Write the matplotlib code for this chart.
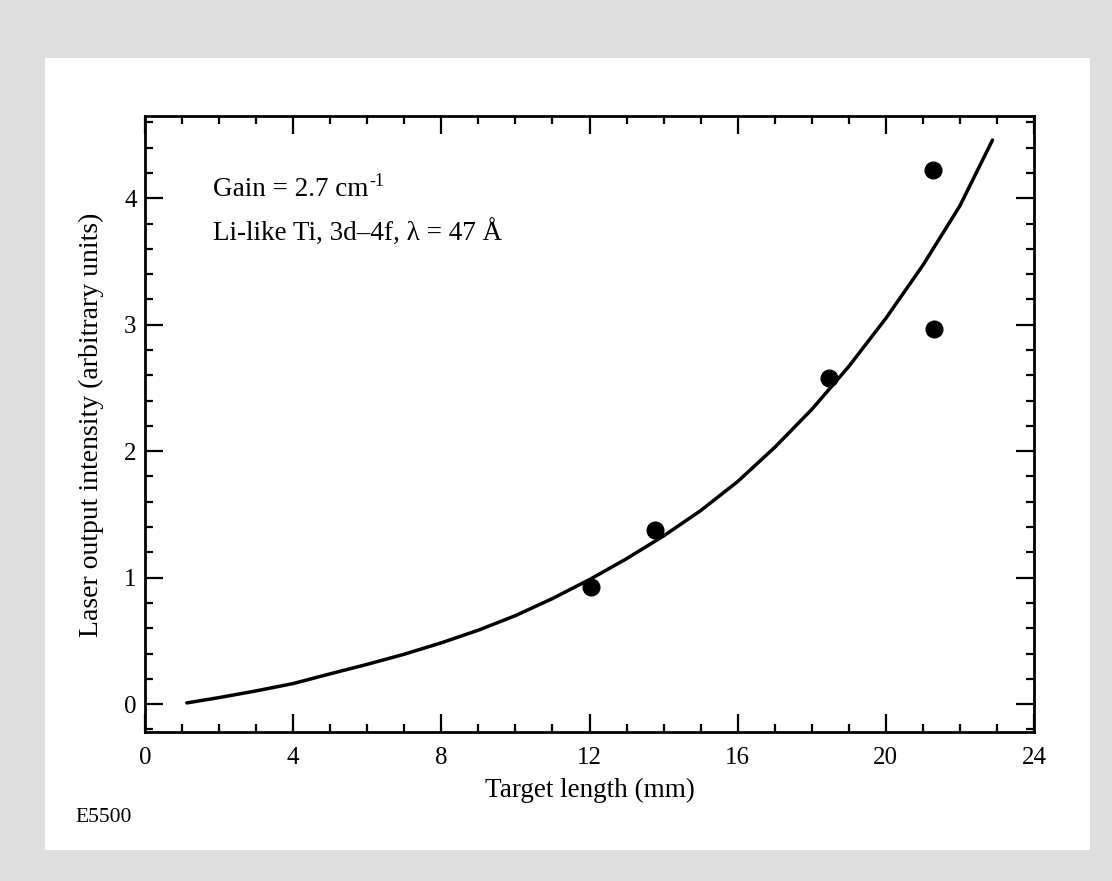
import matplotlib
matplotlib.use("Agg")
import matplotlib.pyplot as plt
from matplotlib.patches import Rectangle
from matplotlib.ticker import MultipleLocator

# data
target_len = [12.05, 13.78, 18.46, 21.26, 21.30]
intensity = [0.93, 1.38, 2.58, 4.22, 2.97]

curve_x = [1.13, 2.0, 3.0, 4.0, 5.0, 6.0, 7.0, 8.0, 9.0, 10.0, 11.0, 12.0,
           13.0, 14.0, 15.0, 16.0, 17.0, 18.0, 19.0, 20.0, 21.0, 22.0, 22.88]
curve_y = [0.01, 0.052, 0.105, 0.163, 0.24, 0.315, 0.395, 0.485, 0.585, 0.70, 0.835, 0.985,
           1.15, 1.33, 1.53, 1.76, 2.03, 2.33, 2.67, 3.05, 3.47, 3.94, 4.46]

x_ticks = [0, 4, 8, 12, 16, 20, 24]
y_ticks = [0, 1, 2, 3, 4]

plt.rcParams["font.family"] = ["Liberation Serif", "DejaVu Serif"]

W, H = 1112, 881
fig = plt.figure(figsize=(W / 100, H / 100), dpi=100, facecolor="#dedede")
panel = Rectangle((45 / W, 1 - 850 / H), (1090 - 45) / W, (850 - 58) / H,
                  transform=fig.transFigure, facecolor="white", edgecolor="none")
panel.set_zorder(-10)
fig.add_artist(panel)

left, right, top, bottom = 145, 1034, 116, 732
ax = fig.add_axes([left / W, 1 - bottom / H, (right - left) / W, (bottom - top) / H])
ax.set_zorder(1)

ax.plot(curve_x, curve_y, color="black", lw=2.5, solid_capstyle="round",
        solid_joinstyle="round")
ax.plot(target_len, intensity, "o", color="black", ms=12)

ax.set_xlim(0, 24)
ax.set_ylim(-0.22, 4.65)
ax.set_xticks(x_ticks)
ax.set_yticks(y_ticks)
ax.xaxis.set_minor_locator(MultipleLocator(1))
ax.yaxis.set_minor_locator(MultipleLocator(0.2))
ax.tick_params(which="both", direction="in", top=True, right=True, width=1.6, color="black")
ax.tick_params(which="major", length=13, labelsize=18)
ax.tick_params(which="minor", length=6)
ax.tick_params(axis="x", which="major", pad=11)
ax.tick_params(axis="y", which="major", pad=6)
for s in ax.spines.values():
    s.set_linewidth(2.0)

ax.set_xlabel("Target length (mm)", fontsize=19.5)
ax.xaxis.set_label_coords(0.5, -0.075)
ax.set_ylabel("Laser output intensity (arbitrary units)", fontsize=20)
ax.yaxis.set_label_coords(-0.046, 0.498)

t = ax.text(0.076, 0.880, "Gain = 2.7 cm", transform=ax.transAxes, fontsize=19.5,
            ha="left", va="center")
ax.annotate("-1", xy=(1.0, 0.5), xycoords=t, fontsize=13, ha="left", va="bottom",
            xytext=(1, 0), textcoords="offset points")
ax.text(0.076, 0.810, "Li-like Ti, 3d\u20134f, \u03bb = 47 \u00c5", transform=ax.transAxes,
        fontsize=19.5, ha="left", va="center")

fig.text(75 / W, 1 - 818 / H, "E5500", fontsize=15.5, ha="left", va="center")

fig.savefig("out.png", dpi=100, facecolor=fig.get_facecolor())
